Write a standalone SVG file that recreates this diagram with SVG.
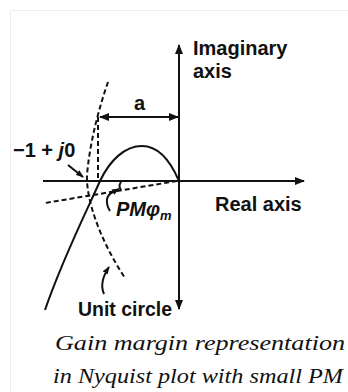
<svg xmlns="http://www.w3.org/2000/svg" width="348" height="392" viewBox="0 0 348 392">
<style>
.ax{stroke:#111;stroke-width:2;fill:none}
.dash{stroke:#111;stroke-width:2;fill:none;stroke-dasharray:5 3}
.sans{font-family:"Liberation Sans",Arial,sans-serif;font-size:20px;font-weight:bold;fill:#111}
.cap{font-family:"Liberation Serif","Times New Roman",serif;font-style:italic;font-size:21px;fill:#111}
</style>
<defs>
<marker id="ah" viewBox="0 0 10 8" refX="9" refY="4" markerWidth="10" markerHeight="8" markerUnits="userSpaceOnUse" orient="auto">
<path d="M0,0 L10,4 L0,8 Z" fill="#111"/>
</marker>
<marker id="sh" viewBox="0 0 8 6" refX="7" refY="3" markerWidth="8" markerHeight="6" markerUnits="userSpaceOnUse" orient="auto">
<path d="M0,0 L8,3 L0,6 Z" fill="#111"/>
</marker>
</defs>
<rect width="348" height="392" fill="#fff"/>
<path d="M10.5,392 V10.5 H348" stroke="#ececec" stroke-width="1" fill="none"/>
<g id="connectors">
<line class="ax" x1="179" y1="181" x2="179" y2="45" marker-end="url(#ah)"/>
<line class="ax" x1="179" y1="181" x2="179" y2="309" marker-end="url(#ah)"/>
<line class="ax" x1="43" y1="181" x2="304" y2="181" marker-end="url(#ah)"/>
<line class="ax" x1="140" y1="117" x2="100" y2="117" marker-end="url(#ah)"/>
<line class="ax" x1="140" y1="117" x2="178" y2="117" marker-end="url(#ah)"/>
<line class="dash" x1="98" y1="117" x2="98" y2="181"/>
<path class="dash" d="M108,82 C100,105 90,140 87,175 C86,200 100,240 125,278"/>
<line class="dash" x1="177" y1="181" x2="45" y2="203"/>
<path class="ax" d="M179,181 C170,160 158,146 142,146 C125,146 110,160 100,181 C88,208 62,260 45,310"/>
<path class="ax" stroke-width="1.8" d="M121,182 Q118,186 121,190"/>
<line class="ax" x1="68" y1="165" x2="83" y2="177" marker-end="url(#sh)"/>
<path class="ax" d="M110,211 C105,203 106,195 113,192 L119,189" marker-end="url(#sh)"/>
<path class="ax" d="M104,294 C100,285 103,276 109,267" marker-end="url(#sh)"/>
</g>
<g id="imag-label"><text class="sans" x="193" y="55">Imaginary</text><text class="sans" x="193" y="78">axis</text></g>
<g id="real-label"><text class="sans" x="215" y="211">Real axis</text></g>
<g id="a-label"><text class="sans" x="134" y="110">a</text></g>
<g id="point-label"><text class="sans" x="13" y="157">−1 + <tspan font-style="italic">j</tspan>0</text></g>
<g id="pm-label"><text class="sans" x="116" y="216" font-style="italic" font-weight="normal" font-size="19">PM<tspan>φ</tspan><tspan font-size="13" dy="4">m</tspan></text></g>
<g id="unit-label"><text class="sans" x="78" y="316" textLength="94" lengthAdjust="spacingAndGlyphs">Unit circle</text></g>
<g id="caption">
<text class="cap" x="55" y="350" textLength="290" lengthAdjust="spacingAndGlyphs">Gain margin representation</text>
<text class="cap" x="53" y="383" textLength="290" lengthAdjust="spacingAndGlyphs">in Nyquist plot with small PM</text>
</g>
</svg>
